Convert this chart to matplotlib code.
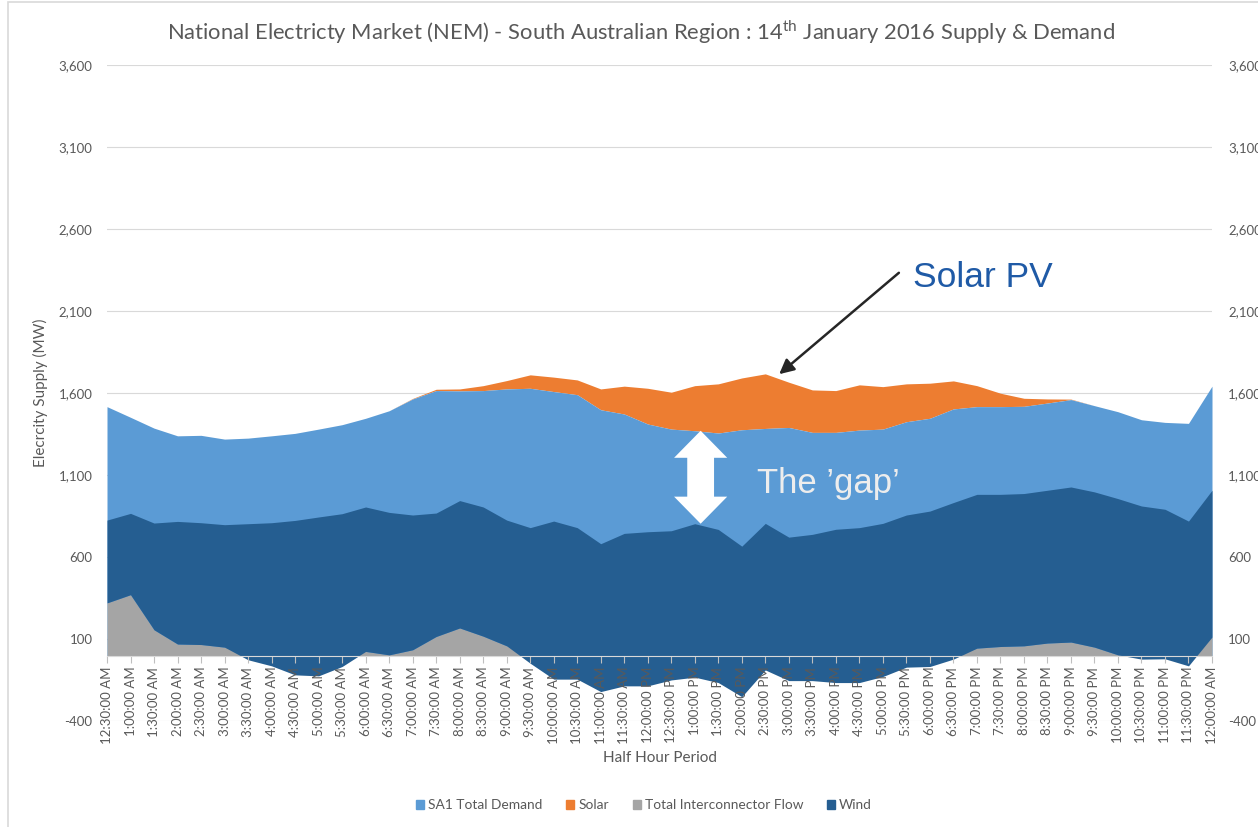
import numpy as np
import matplotlib.pyplot as plt
from matplotlib.patches import Patch, Rectangle, Polygon

# half hour periods, 14 Jan 2016 (SA1)
periods = ["12:30:00 AM", "1:00:00 AM", "1:30:00 AM", "2:00:00 AM", "2:30:00 AM",
           "3:00:00 AM", "3:30:00 AM", "4:00:00 AM", "4:30:00 AM", "5:00:00 AM",
           "5:30:00 AM", "6:00:00 AM", "6:30:00 AM", "7:00:00 AM", "7:30:00 AM",
           "8:00:00 AM", "8:30:00 AM", "9:00:00 AM", "9:30:00 AM", "10:00:00 AM",
           "10:30:00 AM", "11:00:00 AM", "11:30:00 AM", "12:00:00 PM", "12:30:00 PM",
           "1:00:00 PM", "1:30:00 PM", "2:00:00 PM", "2:30:00 PM", "3:00:00 PM",
           "3:30:00 PM", "4:00:00 PM", "4:30:00 PM", "5:00:00 PM", "5:30:00 PM",
           "6:00:00 PM", "6:30:00 PM", "7:00:00 PM", "7:30:00 PM", "8:00:00 PM",
           "8:30:00 PM", "9:00:00 PM", "9:30:00 PM", "10:00:00 PM", "10:30:00 PM",
           "11:00:00 PM", "11:30:00 PM", "12:00:00 AM"]

# MW
demand = [1518, 1453, 1387, 1340, 1343, 1320, 1326, 1340, 1355, 1381,
          1408, 1447, 1493, 1565, 1616, 1614, 1616, 1626, 1630, 1610,
          1591, 1499, 1473, 1412, 1381, 1371, 1357, 1377, 1385, 1391,
          1361, 1361, 1375, 1381, 1426, 1447, 1504, 1518, 1518, 1520,
          1540, 1561, 1524, 1487, 1438, 1422, 1416, 1643]
solar = [0, 0, 0, 0, 0, 0, 0, 0, 0, 0,
         0, 0, 0, 3, 8, 12, 30, 51, 82, 88,
         90, 127, 170, 218, 225, 275, 300, 316, 333, 276,
         259, 255, 276, 259, 231, 214, 171, 128, 82, 49,
         25, 3, 0, 0, 0, 0, 0, 0]
interconnector = [321, 371, 157, 70, 67, 51, -26, -63, -118, -124,
                  -67, 25, 4, 35, 116, 168, 118, 59, -47, -144,
                  -144, -220, -185, -185, -149, -132, -165, -251, -88, -153,
                  -153, -165, -165, -128, -71, -67, -22, 45, 55, 59,
                  76, 82, 51, 4, -22, -20, -63, 113]
wind = [505, 496, 651, 748, 743, 747, 830, 873, 942, 969,
        932, 881, 869, 822, 753, 777, 788, 767, 827, 964,
        924, 902, 930, 940, 910, 936, 934, 918, 894, 875,
        892, 935, 945, 934, 928, 948, 955, 938, 928, 929,
        932, 946, 947, 953, 934, 912, 883, 895]

yticks = [-400, 100, 600, 1100, 1600, 2100, 2600, 3100, 3600]

c_demand = "#5B9BD5"
c_solar = "#ED7D31"
c_ic = "#A5A5A5"
c_wind = "#255E91"
c_text = "#595959"

plt.rcParams['font.family'] = ['Lato', 'DejaVu Sans']
plt.rcParams['mathtext.fontset'] = 'custom'
plt.rcParams['mathtext.rm'] = 'Lato'

W, H = 1258, 827
fig = plt.figure(figsize=(W / 100, H / 100), dpi=100)
ax = fig.add_axes([107 / W, 1 - 721.1 / H, 1105 / W, (721.1 - 65.3) / H])

x = np.arange(len(periods))
d = np.array(demand, dtype=float)
s = np.array(solar, dtype=float)
ic = np.array(interconnector, dtype=float)
w = np.array(wind, dtype=float)

for v in yticks:
    ax.axhline(v, color="#D9D9D9", lw=0.8, zorder=0.5)

# demand/solar on one stack, interconnector + wind on the other
ax.fill_between(x, d, d + s, color=c_solar, lw=0, zorder=1)
ax.fill_between(x, 0, d, color=c_demand, lw=0, zorder=1.1)
ax.fill_between(x, 0, np.clip(ic, 0, None), color=c_ic, lw=0, zorder=1.2)
ax.fill_between(x, ic, ic + w, color=c_wind, lw=0, zorder=1.3)

ax.set_xlim(0, len(periods) - 1)
ax.set_ylim(-400, 3600)
ax.set_yticks(yticks)
ax.set_yticklabels([f"{v:,}" for v in yticks], fontsize=9.5, color=c_text)
ax.tick_params(axis="y", length=0, pad=10.5)
for side in ["top", "left", "right"]:
    ax.spines[side].set_visible(False)
ax.spines["bottom"].set_position(("data", 0))
ax.spines["bottom"].set_color("#D9D9D9")
ax.set_facecolor("none")

ax2 = ax.twinx()
ax2.set_ylim(-400, 3600)
ax2.set_yticks(yticks)
ax2.set_yticklabels([f"{v:,}" for v in yticks], fontsize=9.5, color=c_text)
ax2.tick_params(axis="y", length=0, pad=11.5)
for side in ax2.spines:
    ax2.spines[side].set_visible(False)

ax.set_xticks(x)
ax.set_xticklabels(periods, fontsize=9.5, color=c_text)
ax.tick_params(axis="x", length=5, color="#BFBFBF", pad=3, labelrotation=90)

fig.text(641 / W, 1 - 32 / H,
         r"National Electricty Market (NEM) - South Australian Region : 14$^{\mathrm{th}}$ January 2016 Supply & Demand",
         ha="center", va="center", fontsize=15.8, color=c_text)
fig.text(40 / W, 1 - 393 / H, "Elecrcity Supply (MW)", rotation=90,
         ha="center", va="center", fontsize=11, color=c_text)
fig.text(660 / W, 1 - 758 / H, "Half Hour Period", ha="center", va="center",
         fontsize=11, color=c_text)

handles = [Patch(color=c_demand), Patch(color=c_solar), Patch(color=c_ic), Patch(color=c_wind)]
fig.legend(handles, ["SA1 Total Demand", "Solar", "Total Interconnector Flow", "Wind"],
           loc="center", bbox_to_anchor=(644 / W, 1 - 805 / H), ncol=4, frameon=False,
           handlelength=0.6, handleheight=0.6, handletextpad=0.3, columnspacing=1.7,
           fontsize=9.9, labelcolor=c_text)

# "Solar PV" callout
ax.annotate("", xy=(28.5, 1705), xytext=(901, H - 271), textcoords="figure pixels",
            arrowprops=dict(arrowstyle="-|>", color="#262626", lw=1.8, mutation_scale=22),
            zorder=5)
fig.text(913 / W, 1 - 287 / H, "Solar PV", va="baseline", fontsize=25.5,
         color="#1F5AA6", family="Liberation Sans")

# white double arrow across the gap at 1:00 PM
k = 25
cx = k + 0.25
top, bot = d[k], ic[k] + w[k]
hl, hw, sw = 165, 1.13, 0.57
arrow = Polygon([(cx, top), (cx + hw, top - hl), (cx + sw, top - hl), (cx + sw, bot + hl),
                 (cx + hw, bot + hl), (cx, bot), (cx - hw, bot + hl), (cx - sw, bot + hl),
                 (cx - sw, top - hl), (cx - hw, top - hl)],
                closed=True, color="white", lw=0, zorder=4)
ax.add_patch(arrow)
fig.text(757 / W, 1 - 493 / H, "The \u2019gap\u2019", va="baseline", fontsize=25,
         color="#EDEDED", family="Liberation Sans")

fig.patches.append(Rectangle((8 / W, -0.05), 1.2, 1.05 - 2 / H, transform=fig.transFigure,
                             fill=False, ec="#D9D9D9", lw=1.2))

fig.savefig("out.png", dpi=100)
